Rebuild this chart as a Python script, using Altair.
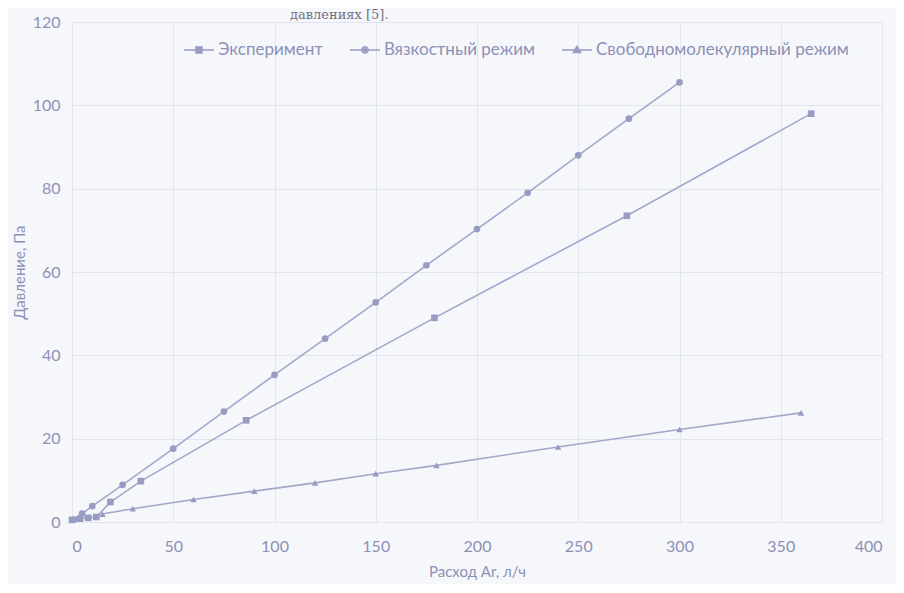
import altair as alt
import pandas as pd

# ---- data ----
exp_x = [0, 4, 8, 12, 19, 34, 86, 179, 274, 365]
exp_y = [0.5, 0.8, 1.0, 1.2, 4.8, 9.8, 24.4, 49.0, 73.5, 98.0]

visc_x = [1, 5, 10, 25, 50, 75, 100, 125, 150, 175, 200, 225, 250, 275, 300]
visc_y = [0.6, 2.0, 3.8, 8.9, 17.6, 26.5, 35.3, 44.0, 52.7, 61.6, 70.3, 79.0, 88.0, 96.8, 105.5]

fm_x = [15, 30, 60, 90, 120, 150, 180, 240, 300, 360]
fm_y = [1.9, 3.2, 5.4, 7.4, 9.4, 11.6, 13.6, 18.0, 22.2, 26.2]

series_names = ["Эксперимент", "Вязкостный режим", "Свободномолекулярный режим"]
x_ticks = [0, 50, 100, 150, 200, 250, 300, 350, 400]
y_ticks = [0, 20, 40, 60, 80, 100, 120]
page_words = ["давлениях [5]."]

rows = []
for name, xs, ys in zip(series_names, [exp_x, visc_x, fm_x], [exp_y, visc_y, fm_y]):
    for i, (a, b) in enumerate(zip(xs, ys)):
        rows.append({"series": name, "x": a, "y": b, "order": i})
df = pd.DataFrame(rows)

TEXT = "#8c91b6"
LINE = "#a3a8ca"
MARK = "#969cc2"
GRID = "#e2e5f0"
FONT = "Lato"

xenc = alt.X("x:Q", scale=alt.Scale(domain=[0, 400], nice=False),
             axis=alt.Axis(values=x_ticks, title="Расход Ar, л/ч", labelPadding=16,
                           titlePadding=10, tickSize=0))
yenc = alt.Y("y:Q", scale=alt.Scale(domain=[0, 120], nice=False),
             axis=alt.Axis(values=y_ticks, title="Давление, Па", labelPadding=12,
                           titlePadding=5, tickSize=0))

base = alt.Chart(df)

lines = base.mark_line(color=LINE, strokeWidth=1.6).encode(
    x=xenc, y=yenc, detail="series:N", order="order:Q"
)

points = base.mark_point(filled=True, color=MARK, opacity=1).encode(
    x="x:Q", y="y:Q",
    shape=alt.Shape("series:N",
                    scale=alt.Scale(domain=series_names,
                                    range=["square", "circle", "triangle-up"]),
                    legend=None),
    size=alt.Size("series:N",
                  scale=alt.Scale(domain=series_names, range=[44, 44, 56]),
                  legend=None),
)

legend_paths = [
    "M-1,0H1M-0.2,-0.2H0.2V0.2H-0.2ZM-0.1,-0.1H0.1V0.1H-0.1Z",
    "M-1,0H1M-0.21,0A0.21,0.21,0,1,0,0.21,0A0.21,0.21,0,1,0,-0.21,0ZM-0.1,0A0.1,0.1,0,1,0,0.1,0A0.1,0.1,0,1,0,-0.1,0Z",
    "M-1,0H1M0,-0.25L0.24,0.16H-0.24ZM0,-0.1L0.1,0.08H-0.1Z",
]

legend_layer = base.mark_point(filled=False, color=MARK, opacity=0, strokeWidth=1.5).encode(
    x="x:Q", y="y:Q",
    shape=alt.Shape("series:N",
                    scale=alt.Scale(domain=series_names, range=legend_paths),
                    legend=alt.Legend(title=None, orient="none", direction="horizontal",
                                      legendX=111, legendY=12, symbolSize=900,
                                      symbolOpacity=1, symbolStrokeColor=MARK,
                                      symbolStrokeWidth=1.5, labelLimit=400,
                                      labelFont=FONT, labelFontSize=17, labelColor=TEXT,
                                      labelOffset=3, columnPadding=24, padding=0)),
)

page_text = alt.Chart(pd.DataFrame({"t": page_words})).mark_text(
    font="DejaVu Serif", fontSize=13, color="#6f7282", align="left", baseline="top"
).encode(text="t:N", x=alt.value(218), y=alt.value(-13))

chart = alt.layer(lines, points, legend_layer, page_text).resolve_scale(
    shape="independent", size="independent"
).properties(
    width=810, height=500,
    autosize=alt.AutoSizeParams(type="none"),
    padding={"left": 64, "top": 14, "right": 14, "bottom": 62},
    background="#f6f7fb",
).configure_view(stroke=None).configure_axis(
    grid=True, gridColor=GRID, gridWidth=1, domainColor=GRID,
    labelFont=FONT, labelFontSize=16, labelColor=TEXT,
    titleFont=FONT, titleFontSize=15, titleColor=TEXT, titleFontWeight="normal",
)

chart.save("out.html", embed_options={"renderer": "svg", "actions": False})
